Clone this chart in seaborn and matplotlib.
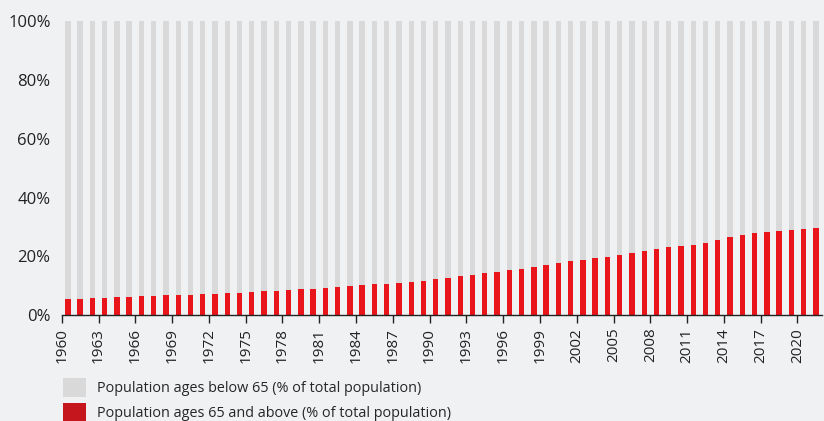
import numpy as np
import pandas as pd
import matplotlib
matplotlib.use("Agg")
import matplotlib.pyplot as plt
from matplotlib.patches import Patch
import seaborn as sns

# data
years = list(range(1960, 2022))
ages_65_above = [
    5.6, 5.7, 5.9, 6.0, 6.2, 6.2, 6.4, 6.6, 6.8, 6.9,
    7.0, 7.2, 7.4, 7.6, 7.7, 7.9, 8.1, 8.4, 8.6, 8.9,
    9.1, 9.4, 9.6, 9.9, 10.2, 10.5, 10.7, 11.0, 11.4, 11.7,
    12.3, 12.7, 13.3, 13.8, 14.3, 14.7, 15.3, 15.9, 16.4, 17.1,
    17.7, 18.3, 18.8, 19.5, 19.9, 20.5, 21.2, 21.8, 22.5, 23.1,
    23.6, 23.9, 24.7, 25.5, 26.5, 27.2, 27.9, 28.3, 28.7, 29.1,
    29.4, 29.7,
]
ages_below_65 = [100 - v for v in ages_65_above]
legend_labels = ["Population ages below 65 (% of total population)",
                 "Population ages 65 and above (% of total population)"]

df = pd.DataFrame({"Year": [str(y) for y in years],
                   "below": ages_below_65,
                   "above": ages_65_above})
df["total"] = df["below"] + df["above"]

bg = "#f0f1f3"
grey = "#d9d9d9"
red = "#e8161b"
red_legend = "#c4161c"

sns.set_theme(style="white")
plt.rcParams["font.family"] = ["Open Sans", "DejaVu Sans"]

fig = plt.figure(figsize=(8.24, 4.21), dpi=100, facecolor=bg)
ax = fig.add_axes([0.0749, 0.251, 0.9227, 0.699])
ax.set_facecolor(bg)

sns.barplot(data=df, x="Year", y="total", color=grey, width=0.44,
            saturation=1, linewidth=0, ax=ax)
sns.barplot(data=df, x="Year", y="above", color=red, width=0.44,
            saturation=1, linewidth=0, ax=ax)

ax.set_xlim(-0.5, len(years) - 0.5)
ax.set_ylim(0, 100)
ax.set_xlabel("")
ax.set_ylabel("")

tick_idx = list(range(0, len(years), 3))
ax.set_xticks([i - 0.5 for i in tick_idx])
ax.set_xticklabels([str(years[i]) for i in tick_idx], rotation=90,
                   fontsize=11, color="#222222")
ax.set_yticks([0, 20, 40, 60, 80, 100])
ax.set_yticklabels([f"{v}%" for v in [0, 20, 40, 60, 80, 100]],
                   fontsize=12, color="#222222")
ax.tick_params(axis="x", length=6, width=1, color="#222222", pad=3,
               bottom=True)
ax.tick_params(axis="y", length=0, pad=8)

for side in ["top", "right", "left"]:
    ax.spines[side].set_visible(False)
ax.spines["bottom"].set_color("#222222")
ax.spines["bottom"].set_linewidth(1)

handles = [Patch(facecolor=grey, edgecolor="none"),
           Patch(facecolor=red_legend, edgecolor="none")]
fig.legend(handles, legend_labels, loc="upper left",
           bbox_to_anchor=(0.076, 0.103), frameon=False, fontsize=10.4,
           handlelength=1.65, handleheight=1.65, handletextpad=0.75,
           labelspacing=0.45, borderaxespad=0, borderpad=0)

fig.savefig("out.png", dpi=100, facecolor=bg)
